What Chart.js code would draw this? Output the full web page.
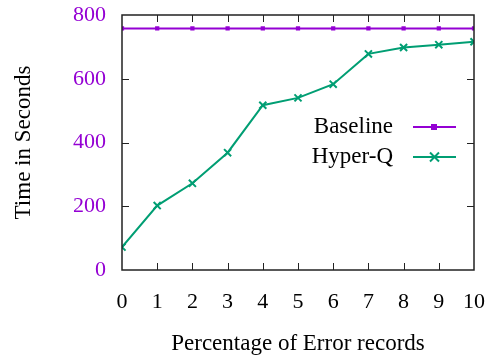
<!DOCTYPE html>
<html>
<head>
<meta charset="utf-8">
<script src="https://cdn.jsdelivr.net/npm/chart.js@4/dist/chart.umd.min.js"></script>
<style>
  body { margin: 0; background: #fff; }
  #c { display: block; }
</style>
</head>
<body>
<canvas id="c" width="487" height="358"></canvas>
<script>
var percentages = [0, 1, 2, 3, 4, 5, 6, 7, 8, 9, 10];
var baseline = [758, 758, 758, 758, 758, 758, 758, 758, 758, 758, 758];
var hyperQ = [72, 202, 272, 368, 517, 540, 583, 678, 698, 707, 716];
var seriesNames = ["Baseline", "Hyper-Q"];
var purple = "#9400d3";
var green = "#009e73";
var serif = "'Liberation Serif', 'DejaVu Serif', serif";

// frame with inward ticks on all four sides
var framePlugin = {
	id: "frame",
	afterDatasetsDraw: function(chart){
		var ctx = chart.ctx, a = chart.chartArea;
		var xs = chart.scales.x, ys = chart.scales.y;
		ctx.save();
		ctx.strokeStyle = "#222";
		ctx.lineWidth = 1.5;
		ctx.strokeRect(a.left, a.top, a.right - a.left, a.bottom - a.top);
		ctx.lineWidth = 1;
		ctx.beginPath();
		for(var i = 1; i < 10; i++){
			var px = Math.round(xs.getPixelForValue(i)) + 0.5;
			ctx.moveTo(px, a.bottom); ctx.lineTo(px, a.bottom - 7);
			ctx.moveTo(px, a.top); ctx.lineTo(px, a.top + 7);
		}
		for(var v = 200; v < 800; v += 200){
			var py = Math.round(ys.getPixelForValue(v)) + 0.5;
			ctx.moveTo(a.left, py); ctx.lineTo(a.left + 7, py);
			ctx.moveTo(a.right, py); ctx.lineTo(a.right - 7, py);
		}
		ctx.stroke();
		ctx.restore();
	}
};

// gnuplot-style key inside the plot
var keyPlugin = {
	id: "key",
	afterDraw: function(chart){
		var ctx = chart.ctx;
		var rows = [127, 157];
		ctx.save();
		ctx.font = "23px " + serif;
		ctx.textAlign = "right";
		ctx.textBaseline = "middle";
		chart.data.datasets.forEach(function(ds, i){
			var y = rows[i];
			ctx.fillStyle = "#000";
			ctx.fillText(ds.label, 393, y);
			ctx.strokeStyle = ds.borderColor;
			ctx.lineWidth = 2;
			ctx.beginPath();
			ctx.moveTo(413, y); ctx.lineTo(456, y);
			ctx.stroke();
			if(i == 0){
				ctx.fillStyle = ds.borderColor;
				ctx.fillRect(431, y - 3, 6, 6);
			} else {
				ctx.beginPath();
				ctx.moveTo(430, y - 4.5); ctx.lineTo(439, y + 4.5);
				ctx.moveTo(430, y + 4.5); ctx.lineTo(439, y - 4.5);
				ctx.stroke();
			}
		});
		ctx.restore();
	}
};

var ctx = document.getElementById("c");
var chart = new Chart(ctx, {
	type: "line",
	data: {
		labels: percentages,
		datasets: [
			{
				label: seriesNames[0],
				data: baseline,
				borderColor: purple,
				backgroundColor: purple,
				borderWidth: 2,
				pointStyle: "rect",
				pointRadius: 3,
				pointBorderWidth: 0,
				tension: 0
			},
			{
				label: seriesNames[1],
				data: hyperQ,
				borderColor: green,
				backgroundColor: green,
				borderWidth: 2,
				pointStyle: "crossRot",
				pointRadius: 5,
				pointBorderWidth: 2,
				tension: 0
			}
		]
	},
	options: {
		responsive: false,
		animation: false,
		layout: { padding: { left: 10, right: 0, top: 0, bottom: 0 } },
		plugins: {
			legend: { display: false },
			tooltip: { enabled: false }
		},
		scales: {
			x: {
				type: "linear",
				min: 0, max: 10,
				grid: { display: false, drawTicks: false },
				border: { display: false },
				ticks: { stepSize: 1, color: "#000", padding: 19, font: { family: serif, size: 22 } },
				title: { display: true, text: "Percentage of Error records", color: "#000", padding: { top: 0, bottom: 0 }, font: { family: serif, size: 23 } },
				afterFit: function(s){ s.height = 88; s.paddingRight = 13; s.paddingTop = 15; }
			},
			y: {
				min: 0, max: 800,
				grid: { display: false, drawTicks: false },
				border: { display: false },
				ticks: { stepSize: 200, color: purple, padding: 16, font: { family: serif, size: 22 } },
				title: { display: true, text: "Time in Seconds", color: "#000", padding: { top: 0, bottom: 0 }, font: { family: serif, size: 23 } },
				afterFit: function(s){ s.width = 112; s.paddingTop = 15; }
			}
		}
	},
	plugins: [framePlugin, keyPlugin]
});
</script>
</body>
</html>
